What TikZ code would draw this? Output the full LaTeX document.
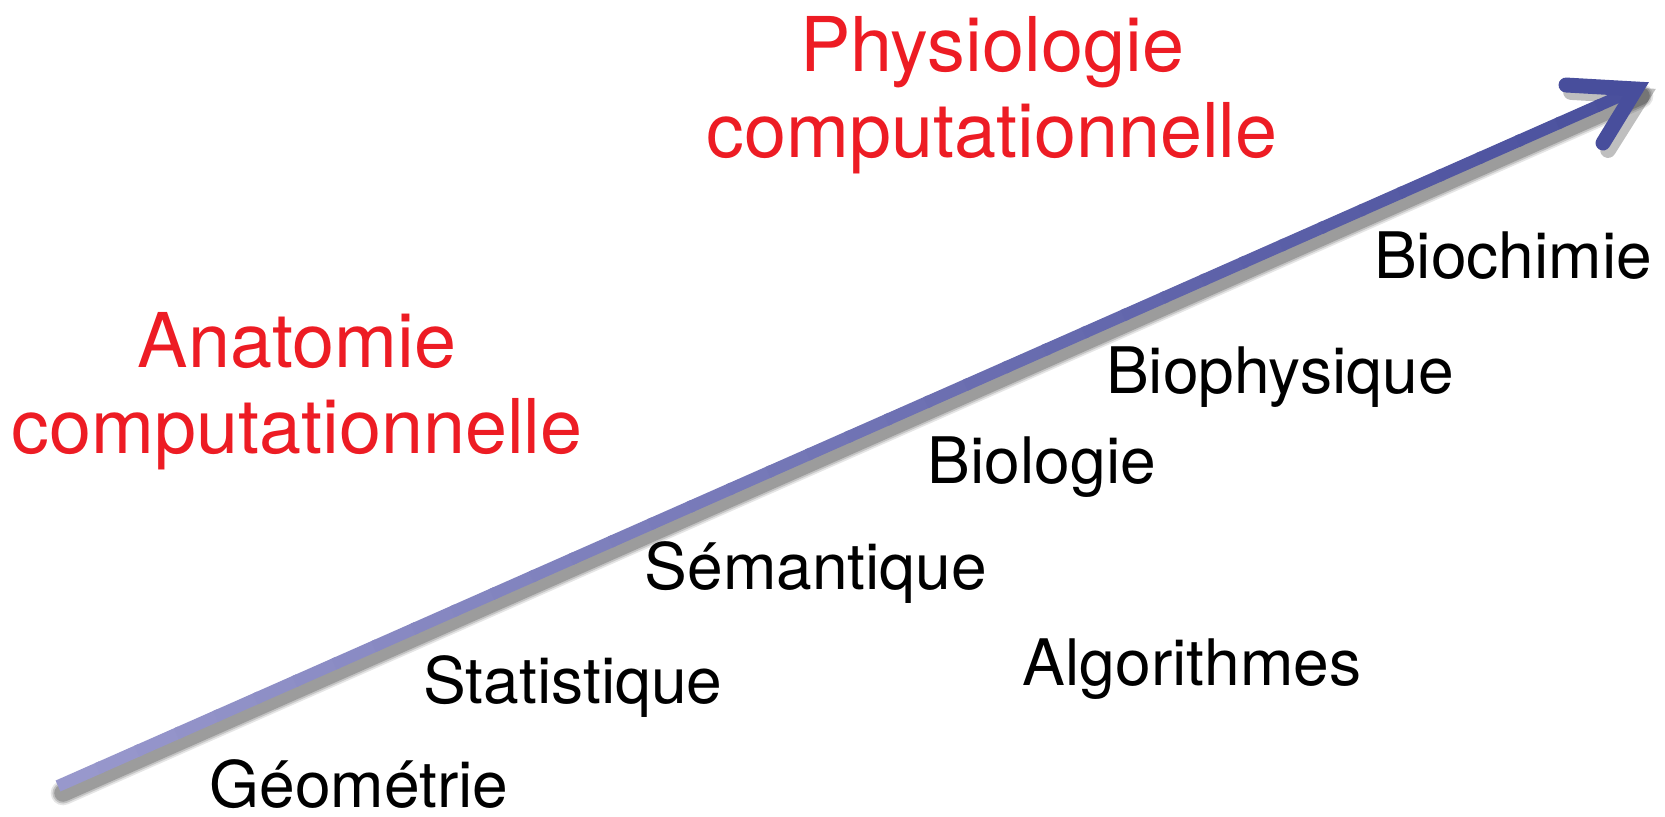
\documentclass[tikz,border=0pt]{standalone}
\usepackage{fontspec}
\setmainfont{TeX Gyre Heros}
\usepackage{tikz}
\usetikzlibrary{positioning,calc}
\usepackage{xcolor}
\definecolor{titlered}{RGB}{237,28,36}
\definecolor{arrowlight}{RGB}{152,152,204}
\definecolor{arrowdark}{RGB}{72,78,156}

\begin{document}
\begin{tikzpicture}[x=0.02cm,y=-0.02cm,
  field/.style={font=\fontsize{43}{49}\selectfont,text=titlered,align=center,inner sep=0pt},
  topic/.style={font=\fontsize{36.5}{42}\selectfont,text=black,anchor=base,inner sep=0pt}]
\useasboundingbox (0,0) rectangle (1665,816);

% labels
\node[field] (physio) at (992,95) {Physiologie\\computationnelle};
\node[field] (anato) at (297,391) {Anatomie\\computationnelle};
\node[topic] (biochimie) at (1513,278) {Biochimie};
\node[topic] (biophysique) at (1280,393) {Biophysique};
\node[topic] (biologie) at (1042,483) {Biologie};
\node[topic] (semantique) at (816,589) {Sémantique};
\node[topic] (algorithmes) at (1192,685) {Algorithmes};
\node[topic] (statistique) at (573,703) {Statistique};
\node[topic] (geometrie) at (359,807) {Géométrie};

% the arrow
\coordinate (start) at (58,786);
\coordinate (tip) at (1636,89);
\coordinate (barbup) at (1566,85);
\coordinate (barbdown) at (1603,143);
\foreach \s/\o in {7/0.10,5/0.15,3/0.20}
  \draw[black,opacity=\o,line width=7pt+\s pt,line cap=round] ($(start)+(5,7)$) -- ($(tip)+(5,7)$);
\draw[black,opacity=0.25,line width=9pt,line cap=round,line join=miter]
  ($(barbup)+(5,7)$) -- ($(tip)+(6,7)$) -- ($(barbdown)+(5,7)$);
\foreach \i in {0,...,39}{
  \pgfmathsetmacro{\a}{\i/40}
  \pgfmathsetmacro{\b}{(\i+1.1)/40}
  \pgfmathsetmacro{\p}{100-\i*2.5}
  \draw[arrowlight!\p!arrowdark,line width=6.8pt] ($(start)!\a!(tip)$) -- ($(start)!\b!(tip)$);
}
\draw[arrowdark,line width=8.5pt,line cap=round,line join=miter]
  (barbup) -- (tip) -- (barbdown);
\end{tikzpicture}
\end{document}
